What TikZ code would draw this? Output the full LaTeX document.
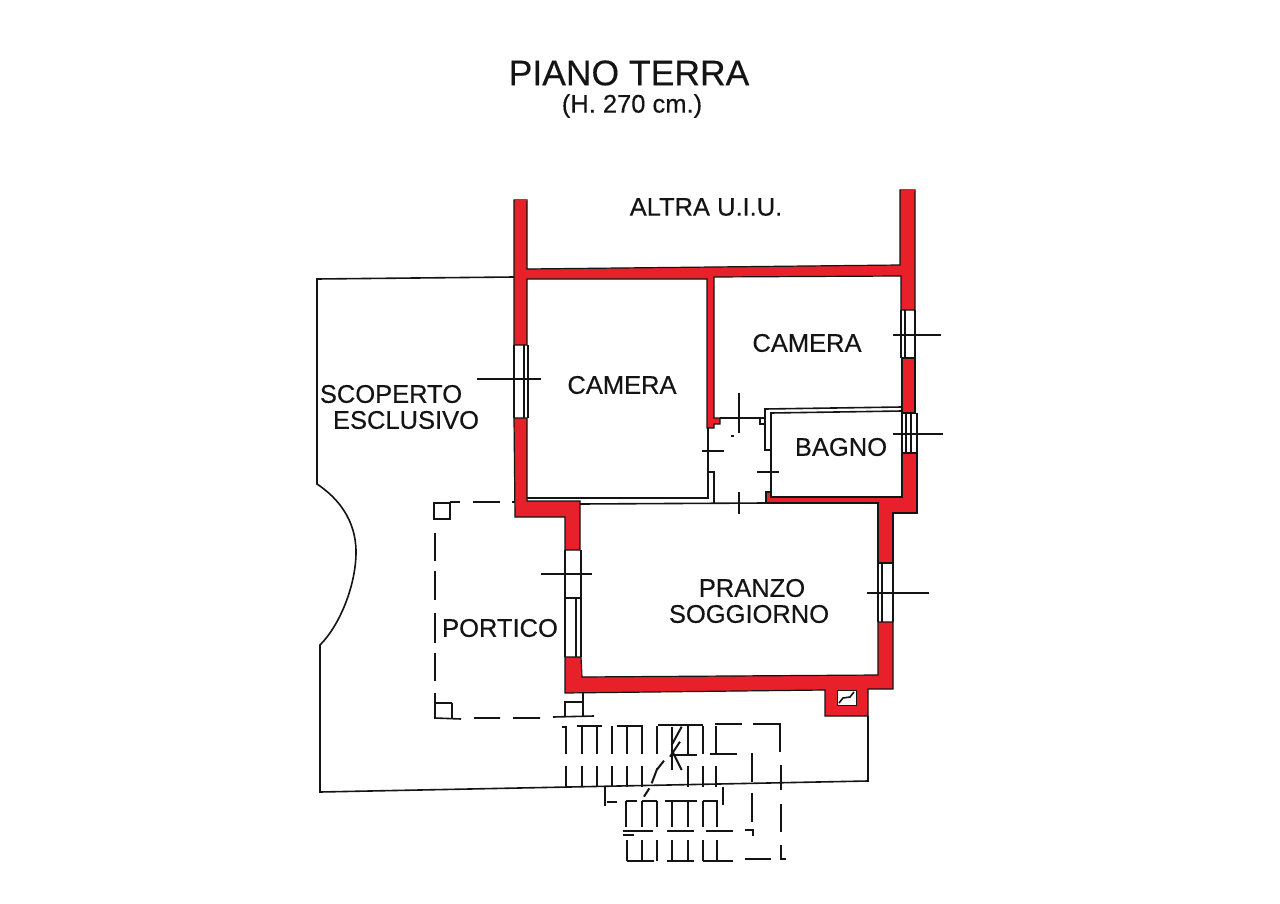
\documentclass[tikz,border=0pt]{standalone}
\usepackage{fontspec}
\setmainfont{Liberation Sans}
\newfontfamily\planfont[FakeBold=0.35]{Liberation Sans}
\definecolor{wallred}{HTML}{E8202A}
\definecolor{ink}{HTML}{141414}
\begin{document}
\begin{tikzpicture}[x=1pt,y=-1pt]

\tikzstyle{wall} = [fill=wallred, draw=ink, line width=1.2pt, line join=miter]
\tikzstyle{edge} = [draw=ink, line width=1.6pt]
\tikzstyle{tick} = [draw=ink, line width=1.4pt]
\tikzstyle{stair} = [draw=ink, line width=2pt]
\tikzstyle{label} = [text=ink, inner sep=0pt, anchor=center]

\def \fsize{\planfont\fontsize{25.5}{26}\selectfont}

\useasboundingbox[fill=white] (0,0) rectangle (1280,904);

%Title
\node[label,font=\planfont\fontsize{35.5}{36}\selectfont](title) at (629,73){PIANO TERRA};
\node[label,font=\fsize](height) at (632,106){(H. 270 cm.)};

%Outer boundary of the open area
\draw[edge] (514,277)--(317,279)--(317,484) .. controls (338,498) and (356,520) .. (356,552) .. controls (356,585) and (340,625) .. (320,645)--(320,792)--(868,781)--(868,716);

%Red walls
\draw[wall] (514,200)--(527,200)--(527,269)--(900,265)--(900,190)--(915,190)--(915,310)--(901,310)--(901,276)--(714,277)--(714,418)--(720,418)--(720,424)--(714,424)--(714,428)--(707,428)--(707,279)--(527,279)--(527,345)--(514,345)--cycle;
\draw[wall] (514,418)--(527,418)--(527,501)--(580,501)--(580,550)--(565,550)--(565,517)--(515,517)--cycle;
\draw[wall] (565,657)--(581,657)--(582,677)--(878,675)--(878,622)--(893,622)--(893,689)--(868,689)--(868,716)--(825,716)--(825,690)--(565,693)--cycle;
\draw[wall] (902,358)--(915,358)--(915,413)--(902,413)--cycle;
\draw[wall] (902,453)--(917,453)--(917,513)--(893,513)--(893,563)--(878,563)--(878,503)--(766,503)--(766,492)--(771,492)--(771,497)--(902,497)--cycle;

%Free wall ends have no black cap
\draw[wallred,line width=2pt] (514.5,200)--(526.5,200);
\draw[wallred,line width=2pt] (900.5,190)--(914.5,190);

%Flue in the wall
\draw[draw=ink,fill=white,line width=1pt] (837,690) rectangle (856,705);
\draw[ink,line width=1.6pt] (839,703)--(843,698)--(850,697)--(854,692);

%Windows
\draw[edge] (514,345)--(514,418) (528,345)--(528,418) (524,345)--(524,418);
\draw[tick] (477,379)--(541,379);
\draw[edge] (901,310)--(901,358) (915,310)--(915,358) (905,310)--(905,358);
\draw[tick] (893,335)--(941,335);
\draw[edge] (902,413)--(902,453) (917,413)--(917,453) (906,413)--(906,453) (911,413)--(911,453);
\draw[tick] (893,434)--(943,434);
\draw[edge] (878,563)--(878,622) (893,563)--(893,622) (882,563)--(882,622);
\draw[tick] (867,593)--(929,593);
\draw[edge] (565,550)--(565,657) (581,550)--(581,657) (566,598)--(580,598) (576,598)--(576,657);
\draw[tick] (541,574)--(592,574);

%Bathroom and hall lines
\draw[edge] (765,418)--(765,409)--(902,407);
\draw[edge] (771,492)--(771,413)--(902,411);
\draw[edge] (720,418)--(762,418) (760,418)--(765,418)--(765,424)--(760,424)--(760,418);
\draw[edge] (765,424)--(765,450)--(770,450);
\draw[edge] (708,428)--(708,498)--(527,498);
\draw[edge] (708,472)--(714,472)--(714,504);
\draw[edge] (580,504)--(766,503);

%Door ticks
\draw[tick] (739,393)--(739,433);
\draw[tick] (702,451)--(724,451);
\draw[tick] (757,472)--(779,472);
\draw[tick] (739,492)--(739,514);
\draw[tick] (731,436)--(734,436);

%Portico dashed outline with pillars
\draw[edge] (434,503) rectangle (450,519);
\draw[edge] (450,502)--(460,502) (473,502)--(500,502) (512,502)--(515,502);
\foreach \ya/\yb in {533/561,571/600,613/643,653/681}
  \draw[edge,line width=2pt] (435,\ya)--(435,\yb);
\draw[edge] (435,693)--(435,718)--(461,719) (452,703)--(435,703) (452,703)--(452,718);
\draw[edge] (474,718)--(500,718) (513,718)--(540,718) (553,717)--(594,716);
\draw[edge] (565,717)--(565,702)--(583,702) (583,693)--(583,717);

%Stairs, read off at three times the size
\begin{scope}[shift={(540,690)},scale=1/3]
\foreach \sx in {78,125,170,215,260,305,352,443,490,528}
  \draw[stair] (\sx,108)--(\sx,192);
\foreach \sx in {78,125,170,215,260,305,443,488,528}
  \draw[stair] (\sx,228)--(\sx,290);
\draw[stair] (65,110)--(80,110) (110,108)--(185,108) (230,108)--(310,108) (355,105)--(490,105) (525,103)--(605,103) (640,102)--(720,102)--(720,185);
\draw[stair] (396,110)--(396,240) (400,195)--(472,195) (510,193)--(590,193);
\draw[stair] (425,110)--(395,165) (420,155)--(390,200) (395,180)--(425,240);
\draw[stair] (372,212)--(350,240) (352,235)--(335,280) (328,295)--(312,320);
\draw[stair] (635,190)--(635,275) (722,225)--(722,300);
\draw[stair] (195,290)--(195,348) (200,335)--(232,335) (548,290)--(548,345);
\draw[stair] (258,332)--(290,332) (305,332)--(352,332) (375,332)--(470,332) (488,332)--(535,332);
\foreach \sx in {258,305,352,397,443,490,532}
  \draw[stair] (\sx,332)--(\sx,412);
\foreach \sx in {260,305,352,397,443,490,532}
  \draw[stair] (\sx,450)--(\sx,513);
\draw[stair] (635,308)--(635,395) (722,342)--(722,425);
\draw[stair] (250,422)--(340,422) (382,422)--(462,422) (498,422)--(578,422) (615,420)--(638,420)--(638,437) (248,435)--(282,435);
\draw[stair] (260,513)--(342,513) (382,513)--(462,513) (490,513)--(578,513) (615,508)--(693,508) (722,465)--(722,508)--(737,508);
\end{scope}

%Room names
\node[label,font=\fsize](altra) at (706,207){ALTRA U.I.U.};
\node[label,font=\fsize](camerab) at (622,385){CAMERA};
\node[label,font=\fsize](cameraa) at (807,343){CAMERA};
\node[label,font=\fsize](bagno) at (841,447){BAGNO};
\node[label,font=\fsize](scoperto) at (391,394){SCOPERTO};
\node[label,font=\fsize](esclusivo) at (406,420){ESCLUSIVO};
\node[label,font=\fsize](pranzo) at (752,588){PRANZO};
\node[label,font=\fsize](soggiorno) at (749,614){SOGGIORNO};
\node[label,font=\fsize](portico) at (500,628){PORTICO};

\end{tikzpicture}
\end{document}
